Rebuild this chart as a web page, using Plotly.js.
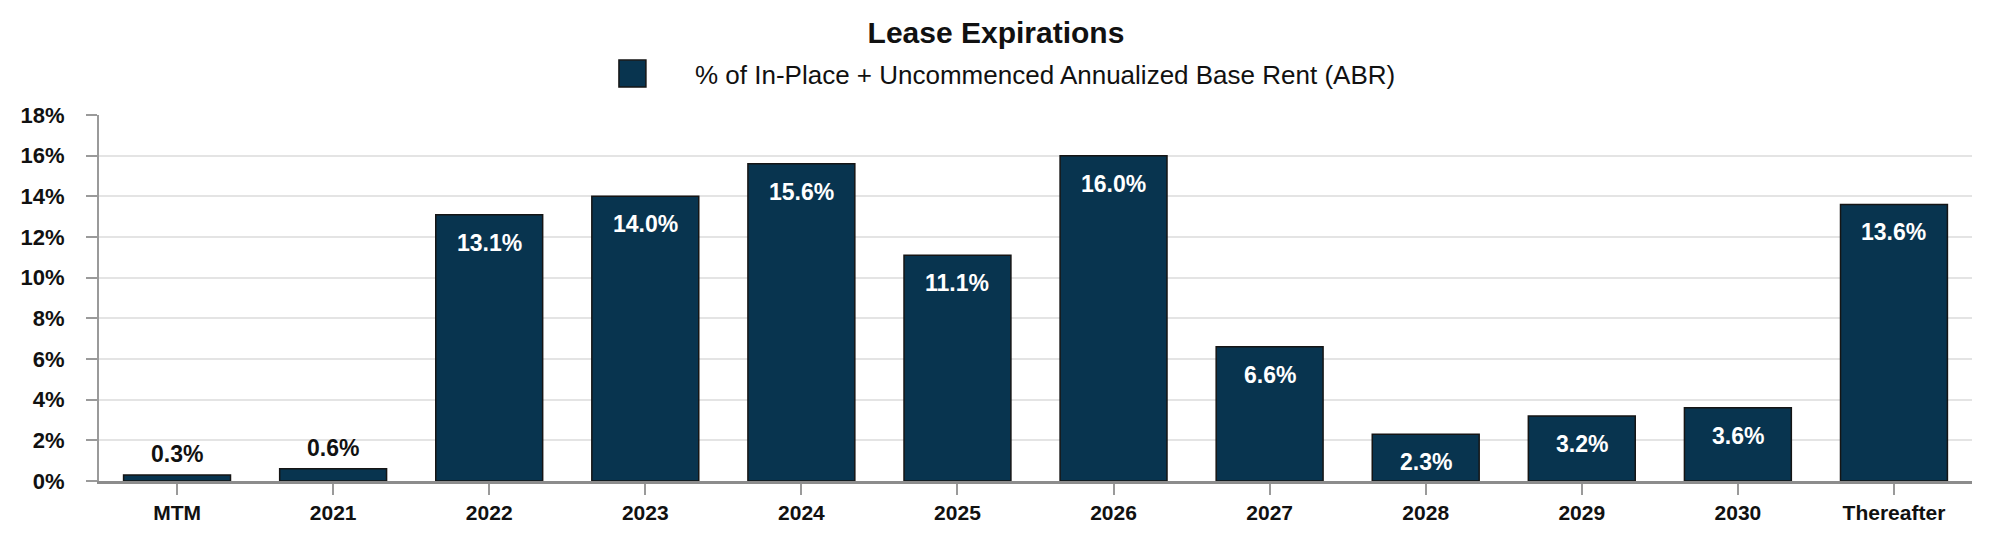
<!DOCTYPE html>
<html>
<head>
<meta charset="utf-8">
<script src="https://cdn.plot.ly/plotly-3.0.1.min.js"></script>
<style>html,body{margin:0;padding:0;background:#fff;}#chart{width:1992px;height:540px;}</style>
</head>
<body>
<div id="chart"></div>
<script>
const categories = ["MTM","2021","2022","2023","2024","2025","2026","2027","2028","2029","2030","Thereafter"];
const abrPct = [0.3, 0.6, 13.1, 14.0, 15.6, 11.1, 16.0, 6.6, 2.3, 3.2, 3.6, 13.6];
const yTickVals = [0,2,4,6,8,10,12,14,16,18];
const yTickText = ["0%","2%","4%","6%","8%","10%","12%","14%","16%","18%"];
const seriesName = "% of In-Place + Uncommenced Annualized Base Rent (ABR)";
const chartTitle = "Lease Expirations";

const FONT = "Liberation Sans, Arial, Helvetica, sans-serif";
const BAR = "#08344f";
const insideThreshold = 1;

// category index positions used by the category axis (0..n-1)
const annotations = categories.map((c, i) => {
  const v = abrPct[i];
  const inside = v >= insideThreshold;
  return {
    x: i, y: v, xref: "x", yref: "y",
    text: v.toFixed(1) + "%",
    showarrow: false,
    xanchor: "center",
    yanchor: inside ? "top" : "bottom",
    yshift: inside ? -13 : 6,
    font: {family: FONT, size: 23, color: inside ? "#ffffff" : "#111111", weight: "bold"}
  };
});

annotations.push({
  xref: "paper", yref: "paper", x: 0.3171, y: 1.108,
  xanchor: "left", yanchor: "middle", showarrow: false,
  text: seriesName,
  font: {family: FONT, size: 26, color: "#111111"}
});

const data = [{
  type: "bar",
  x: categories,
  y: abrPct,
  name: seriesName,
  marker: {color: BAR, line: {color: "#151515", width: 1.5}},
  showlegend: false,
  hoverinfo: "x+y"
}];

const layout = {
  width: 1992, height: 540,
  margin: {l: 99, r: 20, t: 115, b: 59, pad: 0},
  paper_bgcolor: "#ffffff", plot_bgcolor: "#ffffff",
  font: {family: FONT, color: "#111111"},
  title: {
    text: "<b>" + chartTitle + "</b>",
    xref: "container", x: 0.5, xanchor: "center",
    yref: "container", y: 0.94, yanchor: "middle",
    font: {family: FONT, size: 30, color: "#111111"}
  },
  bargap: 0.315,
  xaxis: {
    type: "category",
    categoryorder: "array", categoryarray: categories,
    range: [-0.5, categories.length - 0.5],
    showgrid: false,
    showline: true, linecolor: "#8c8c8c", linewidth: 3,
    ticks: "outside", ticklen: 11, tickwidth: 2, tickcolor: "#9a9a9a",
    ticklabelstandoff: 0,
    tickfont: {family: FONT, size: 21, color: "#111111", weight: "bold"},
    zeroline: false
  },
  yaxis: {
    range: [0, 18],
    tickvals: yTickVals, ticktext: yTickText,
    showgrid: true, gridcolor: "#e4e4e4", gridwidth: 2,
    showline: true, linecolor: "#9a9a9a", linewidth: 2,
    ticks: "outside", ticklen: 11, tickwidth: 2, tickcolor: "#9a9a9a",
    ticklabelstandoff: 17,
    tickfont: {family: FONT, size: 22, color: "#111111", weight: "bold"},
    zeroline: false, fixedrange: true
  },
  shapes: [{
    type: "rect", xref: "paper", yref: "paper",
    x0: 0.2776, x1: 0.2920, y0: 1.0765, y1: 1.150,
    fillcolor: BAR, line: {color: "#151515", width: 1.5}
  }],
  annotations: annotations
};

Plotly.newPlot("chart", data, layout, {displayModeBar: false, staticPlot: true});
</script>
</body>
</html>
